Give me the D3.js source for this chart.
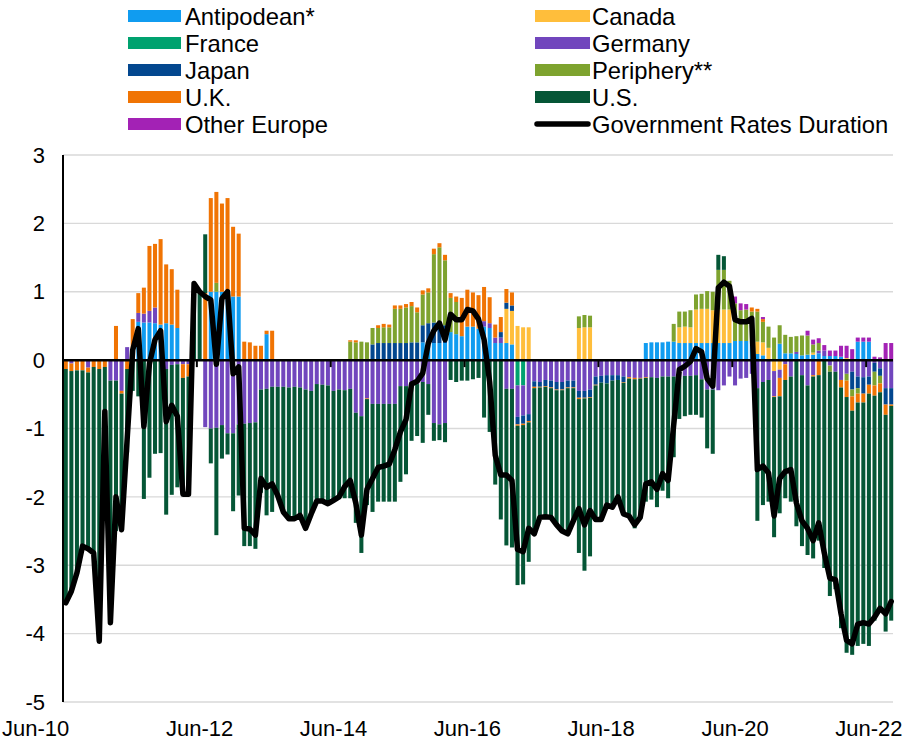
<!DOCTYPE html>
<html><head><meta charset="utf-8">
<script src="https://cdn.jsdelivr.net/npm/d3@7"></script>
<style>body{margin:0;background:#fff} text{font-family:Arial,"Liberation Sans",sans-serif;fill:#000}</style>
</head><body><svg id="c" width="907" height="742"></svg>
<script>
// Categories: monthly, Jun-10 .. Oct-22
const months = d3.timeMonth.range(new Date(2010,5,1), new Date(2022,10,1));
const fmt = d3.timeFormat("%b-%y");
const xTickLabels = ["Jun-10","Jun-12","Jun-14","Jun-16","Jun-18","Jun-20","Jun-22"];
const yTickValues = [3,2,1,0,-1,-2,-3,-4,-5];

const antipodean = [
0,0,0,0,0,0,0,0,0,0,0,0,
0,0.56,0.55,0.55,0.54,0.52,0.54,0.52,0.47,0,0,0,
0,0,1.0,1.0,1.0,0.98,0.93,0.93,0,0,0,0,
0.38,0,0,0,0,0,0,0,0,0,0,0,
0,0,0,0,0,0,0,0,0,0,0,0,
0,0,0,0,0.26,0.25,0.25,0.25,0.25,0.41,0.38,0.35,
0.49,0.49,0.46,0.49,0.47,0.25,0.25,0.25,0.23,0,0,0,
0,0,0,0,0,0,0,0,0,0,0,0,
0,0,0,0,0,0,0,0,0.25,0.26,0.26,0.26,
0.27,0.27,0.25,0.25,0.25,0.25,0.25,0.25,0.25,0.25,0.25,0.25,
0.28,0.28,0.28,0.28,0.09,0.07,0,0,0.24,0.1,0.1,0.09,
0.07,0.08,0.08,0.1,0.06,0.06,0.06,0.05,0,0,0.27,0.27,
0.27,0,0,0,0];
const canada = [
0,0,0,0,0,0,0,0,0,0,0,0,
0,0,0,0,0,0,0,0,0,0,0,0,
0,0,0,0,0,0,0,0,0,0,0,0,
0,0,0,0,0,0,0,0,0,0,0,0,
0,0,0,0,0,0,0,0,0,0,0,0,
0,0,0,0,0,0,0,0,0,0,0,0,
0,0,0,0,0,0,0,0.5,0.49,0.5,0.48,0.48,
0,0,0,0,0,0,0,0,0.47,0.48,0.48,0,
0,0,0,0,0,0,0,0,0,0,0,0,
0,0,0.23,0.24,0.23,0.49,0.5,0.5,0.48,0.49,0.49,0.49,
0,0,0,0,0.18,0.19,0.18,-0.16,-0.14,0,0,0,
0,0,0.03,0,0,0,0,0,0.03,0,0,0,
0,0,0,0,0];
const france = [
0,0,0,0,0,0,0,0,0,0,0,0,
0,0,0,0,0,0,0,0,0,0,0,0,
0,0,0,0,0,0,0,0,0,0,0,0,
0,0,0,0,0,0,0,0,0,0,0,0,
0,0,0,0,0,0,0,0,0,0,0,0,
0,0,0,0,0,0,0,0,0,0,0,0,
0,0,0,0,0,0,0,0,0,-0.37,-0.37,0,
0,0,0,0,0,0,0,0,0,0,0,0,
0,0,0,0,0,0,0,0,0,0,0,0,
0,0,0,0,0,0,0,0,0,0,0,0,
0,0,0,0,0,0,0,0,0,0,0,0,
0,0,0,0,0,0,0,0,0,0,0,0,
0,0,0,0,0];
const germany = [
0,-0.05,0,0,-0.11,0,0,0,-0.3,-0.3,-0.45,0.19,
0,0.13,0.13,0.17,0.23,0,-0.13,-0.07,-0.06,-0.06,-0.06,0,
0,-0.98,-1.0,-0.99,-0.95,-1.07,-1.07,-0.94,-0.93,-0.92,-0.91,-0.43,
-0.42,-0.39,-0.39,-0.39,-0.4,-0.39,-0.4,-0.43,-0.45,-0.35,-0.36,-0.37,
-0.45,-0.43,-0.44,-0.42,-0.77,-0.82,-0.56,-0.64,-0.64,-0.64,-0.64,-0.64,
-0.38,-0.38,-0.37,-0.35,-0.32,-0.35,-0.92,-0.94,-0.92,0,0,0,
0,0,0,0.08,0.07,0.08,0.08,-0.42,-0.42,-0.46,-0.44,-0.79,
-0.31,-0.32,-0.29,-0.3,-0.32,-0.32,-0.3,-0.3,-0.45,-0.45,-0.43,-0.24,
-0.23,-0.22,-0.22,-0.22,-0.24,-0.25,-0.26,-0.26,-0.25,-0.25,-0.26,-0.24,
-0.24,-0.24,-0.26,-0.23,-0.23,-0.22,-0.28,-0.43,-0.43,-0.44,-0.37,-0.24,
-0.37,-0.27,-0.26,-0.2,-0.41,-0.32,-0.29,-0.37,-0.12,-0.06,-0.24,0.03,
-0.22,-0.37,-0.22,0.04,0.08,-0.08,-0.17,-0.29,-0.2,-0.17,-0.24,-0.25,
-0.24,-0.04,-0.12,-0.41,-0.41];
const japan = [
0,0,0,0,0,0,0,0,0,0,0,0,
0,0,0,0,0,0,0,0,0,0,0,0,
0,0,0,0,0,0,0,0,0,0,0,0,
0,0,0,0,0,0,0,0,0,0,0,0,
0,0,0,0,0,0,0,0.23,0.25,0.25,0.25,0.25,
0.25,0.25,0.26,0.26,0.25,0.29,0.3,0.3,0.26,0,0,0,
0,0,0,0,0,0,0.08,0.09,0.08,-0.11,-0.12,-0.1,
-0.08,-0.07,-0.09,-0.1,-0.11,-0.11,-0.1,-0.1,-0.1,-0.1,-0.11,-0.12,
-0.1,-0.12,-0.08,-0.07,-0.08,0,0,0,0,0,0,0,
0,0,0,0,0,0,0,0,0,0,0,0,
0,0,0,0,0,0,0,0,0,0,0,0,
0,0,0,0,0,0,0,0,0,-0.26,-0.17,-0.24,
-0.12,-0.13,-0.11,-0.24,-0.24];
const periphery = [
0,0,0,0,0,0,0,0,0,0,0,0,
0,0,0,0,0,0,0,0,0,0,0,0,
0,0,0,0.13,0,0,0,0,0,0,0,0,
0,0,0,0,0,0,0,0,0,0,0,0,
0,0,0,0.27,0.26,0.27,0.26,0.24,0.22,0.23,0.23,0.5,
0.5,0.52,0.53,0.44,0.45,0.45,1.0,1.1,0.95,0.5,0.47,0,
0,0,0,0,0,0,0,0,0,0,0,0,
0,0,0,0,0,0,0,0,0.17,0.18,0.17,0,
0,0,0,0,0,0,0,0,0,0,0,0,
0,0.26,0.23,0.22,0.25,0.22,0.22,0.26,0.27,0.58,0.58,0.42,
0.55,0.45,0.46,0.43,0.44,0.3,0.31,0.33,0.27,0.27,0.24,0.23,
0.29,0.28,0.12,0.11,0,-0.09,0,0,-0.1,-0.1,-0.08,0,
0,-0.2,-0.11,0,0];
const uk = [
-0.13,-0.11,-0.15,-0.15,-0.07,-0.1,-0.13,-0.1,0,0.5,-0.04,-0.13,
0.6,0.29,0.38,0.95,0.93,1.25,0.86,0.81,0.56,-0.2,-0.18,0,
0,0.98,1.37,1.33,1.29,1.39,1.02,0.92,0.27,0.26,0.21,0.21,
0.05,0.43,0,0,0,0,0,0,0,0,0,0,
0,0,0,0.02,0.03,0,-0.01,0,0.04,0.05,0.04,0.05,
0.05,0.05,0.06,0.07,0.06,0.06,0.08,0.06,0.08,0.07,0.08,0.56,
0.54,0.5,0.49,0.5,0.38,0.19,0.22,0.2,0.19,-0.02,-0.02,-0.02,
-0.02,-0.01,-0.01,-0.01,-0.01,-0.01,-0.01,-0.01,-0.02,-0.01,-0.01,-0.01,
0,0,0,0,-0.01,-0.02,-0.02,-0.01,-0.01,0,0,0,
0,0,0,0,0,0,0,0,0,0,0,0,
0,0,0,0.06,0.04,0.04,0,-0.01,-0.27,-0.23,0,0,
0,0,-0.02,-0.22,0,0,0,-0.11,-0.24,-0.21,-0.13,-0.13,
-0.13,-0.15,-0.13,-0.15,-0.02];
const us = [
-3.42,-3.22,-2.96,-2.57,-2.58,-2.72,-3.98,-0.65,-3.54,-2.2,-1.99,-1.22,
-0.45,-0.53,-2.03,-1.72,-1.37,-1.36,-2.13,-1.9,-1.8,-1.7,-1.72,1.12,
1.02,0.86,-0.51,-1.57,-0.49,-0.31,-1.14,-1.04,-1.79,-1.8,-1.85,-1.51,
-1.85,-1.83,-1.59,-1.83,-1.92,-1.93,-1.87,-2.03,-1.8,-1.71,-1.7,-1.73,
-1.6,-1.57,-1.58,-1.6,-1.61,-2.0,-1.55,-1.58,-1.43,-1.43,-1.43,-1.43,
-1.4,-1.29,-0.81,-0.76,-0.89,-0.45,-0.26,-0.23,-0.28,-0.29,-0.32,-0.3,
-0.3,-0.28,-0.26,-0.84,-1.05,-1.82,-2.33,-2.29,-2.32,-2.33,-2.33,-2.04,
-2.13,-1.9,-1.9,-1.89,-1.97,-2.06,-2.13,-1.94,-2.25,-2.52,-2.32,-1.96,
-2.0,-1.78,-1.85,-1.71,-1.92,-2.01,-2.18,-2.03,-1.81,-1.79,-1.89,-1.67,
-1.78,-1.18,-0.6,-0.59,-0.57,-0.58,-0.56,-0.86,-0.94,0.22,0.2,0,
0,0,0,0,-1.94,-1.8,-1.78,-2.05,-1.71,-1.73,-1.83,-2.43,
-2.5,-2.48,-2.66,-2.42,-3.04,-3.28,-3.18,-3.52,-3.74,-3.57,-3.56,-3.53,
-3.69,-3.29,-3.2,-3.17,-3.14];
const otherEurope = [
0,0,0,0,0,0,0,0,0,0,0,0,
0,0,0,0,0,0,0,0,0,0,0,0,
0,0,0,0,0,0,0,0,0,0,0,0,
0,0,0,0,0,0,0,0,0,0,0,0,
0,0,0,0,0,0,0,0,0,0,0,0,
0,0,0,0,0,0,0,0,0,0,0,0,
0,0,0,0,0,0,0,0,0,0,0,0,
0,0,0,0,0,0,0,0,0,0,0,0,
0,0,0,0,0,0,0,0,0,0,0,0,
0,0,0,0,0,0,0,0,0,0,0,0,
0.1,0.1,0.08,0,0,0.03,0,0,0,0,0,0,
0,0.07,0.07,0.07,0.08,0.08,0.08,0.16,0.18,0.16,0.06,0.06,
0.06,0.05,0.04,0.25,0.25];
const govRatesDuration = [
-3.55,-3.38,-3.11,-2.72,-2.76,-2.82,-4.11,-0.75,-3.84,-2.0,-2.48,-1.16,
0.15,0.46,-0.97,-0.05,0.3,0.43,-0.9,-0.66,-0.82,-1.96,-1.96,1.12,
1.0,0.93,0.88,-0.06,0.9,1.0,-0.2,-0.1,-2.46,-2.47,-2.56,-1.73,
-1.86,-1.81,-1.98,-2.22,-2.32,-2.32,-2.27,-2.46,-2.25,-2.06,-2.06,-2.1,
-2.05,-2.0,-1.85,-1.76,-2.09,-2.56,-1.89,-1.73,-1.57,-1.55,-1.52,-1.31,
-1.05,-0.87,-0.35,-0.31,-0.19,0.25,0.43,0.54,0.3,0.67,0.59,0.59,
0.74,0.72,0.6,0.3,-0.32,-1.39,-1.68,-1.68,-1.76,-2.77,-2.8,-2.46,
-2.54,-2.3,-2.29,-2.3,-2.41,-2.5,-2.54,-2.35,-2.17,-2.41,-2.2,-2.33,
-2.33,-2.12,-2.15,-2.0,-2.25,-2.28,-2.41,-2.3,-1.81,-1.78,-1.89,-1.66,
-1.76,-0.95,-0.14,-0.09,-0.02,0.17,0.12,-0.27,-0.38,1.06,1.14,1.08,
0.59,0.56,0.56,0.61,-1.6,-1.55,-1.65,-2.28,-1.73,-1.63,-1.6,-2.09,
-2.35,-2.46,-2.64,-2.38,-2.82,-3.19,-3.21,-3.71,-4.1,-4.15,-3.86,-3.84,
-3.86,-3.76,-3.63,-3.71,-3.53];

const seriesNames = ["Antipodean*","Canada","France","Germany","Japan","Periphery**","U.K.","U.S.","Other Europe"];
const seriesValues = [antipodean,canada,france,germany,japan,periphery,uk,us,otherEurope];
const colors = ["#109cf0","#ffbe3b","#00a26f","#7146bd","#03478f","#7ea32f","#f07404","#055636","#a322b5"];
const lineName = "Government Rates Duration";

const table = months.map((m,i)=>{
  const r = {i};
  seriesNames.forEach((k,j)=>r[k]=seriesValues[j][i]);
  return r;
});

const svg = d3.select("#c");
const pLeft=63, pRight=894, pTop=155, pBottom=702;
const x = d3.scaleBand().domain(d3.range(months.length)).range([pLeft,pRight]).paddingInner(0.28).paddingOuter(0.14);
const y = d3.scaleLinear().domain([-5,3]).range([pBottom,pTop]);
const bw = x.bandwidth(), step = x.step();

// gridlines
svg.append("g").selectAll("line").data(yTickValues.filter(v=>v!==0)).join("line")
  .attr("x1",pLeft).attr("x2",pRight-1).attr("y1",d=>y(d)).attr("y2",d=>y(d))
  .attr("stroke","#d9d9d9").attr("stroke-width",1.3);

// bars
const stacked = d3.stack().keys(seriesNames).offset(d3.stackOffsetDiverging)(table);
const gb = svg.append("g");
stacked.forEach((layer,j)=>{
  gb.append("g").attr("fill",colors[j]).selectAll("rect")
    .data(layer.filter(d=>d[1]!==d[0])).join("rect")
    .attr("x",d=>x(d.data.i)).attr("width",bw)
    .attr("y",d=>y(Math.max(d[0],d[1])))
    .attr("height",d=>Math.abs(y(d[0])-y(d[1])));
});

// y axis labels
svg.append("g").selectAll("text").data(yTickValues).join("text")
  .attr("x",45).attr("y",d=>y(d)).attr("dy","0.35em").attr("text-anchor","end")
  .attr("font-size",22).text(d=>d);

// zero axis + ticks
svg.append("line").attr("x1",pLeft).attr("x2",pRight-1).attr("y1",y(0)).attr("y2",y(0))
  .attr("stroke","#000").attr("stroke-width",2.5);
const tickIdx = xTickLabels.map(l=>months.findIndex(m=>fmt(m)===l));
svg.append("g").selectAll("line").data(tickIdx).join("line")
  .attr("x1",d=>x(d)-(step-bw)/2).attr("x2",d=>x(d)-(step-bw)/2)
  .attr("y1",y(0)).attr("y2",y(0)+7).attr("stroke","#000").attr("stroke-width",2);
svg.append("g").selectAll("text").data(tickIdx).join("text")
  .attr("x",(d,k)=>k===0?2:x(d)+bw/2).attr("y",736)
  .attr("text-anchor",(d,k)=>k===0?"start":"middle")
  .attr("font-size",22).text(d=>fmt(months[d]));

// y axis line
svg.append("line").attr("x1",pLeft).attr("x2",pLeft).attr("y1",pTop).attr("y2",pBottom)
  .attr("stroke","#000").attr("stroke-width",2);

// duration line
svg.append("path").datum(govRatesDuration)
  .attr("fill","none").attr("stroke","#000").attr("stroke-width",5.5)
  .attr("stroke-linejoin","round").attr("stroke-linecap","round")
  .attr("d",d3.line().x((d,i)=>x(i)+bw/2).y(d=>y(d)));

// legend
const legItems = seriesNames.map((n,j)=>({name:n,color:colors[j],type:"rect"})).concat([{name:lineName,type:"line"}]);
const lg = svg.append("g");
legItems.forEach((it,k)=>{
  const col = k%2, row = Math.floor(k/2);
  const sx = col===0?128:535, tx = col===0?185:592, cy = 16 + row*27;
  if(it.type==="rect"){
    lg.append("rect").attr("x",sx).attr("y",cy-6).attr("width",col===0?53:55).attr("height",12).attr("fill",it.color);
  } else {
    lg.append("line").attr("x1",sx+2).attr("x2",sx+53).attr("y1",cy).attr("y2",cy)
      .attr("stroke","#000").attr("stroke-width",5.5).attr("stroke-linecap","round");
  }
  lg.append("text").attr("x",tx).attr("y",cy).attr("dy","0.36em").attr("font-size",23.8).text(it.name);
});
</script></body></html>
